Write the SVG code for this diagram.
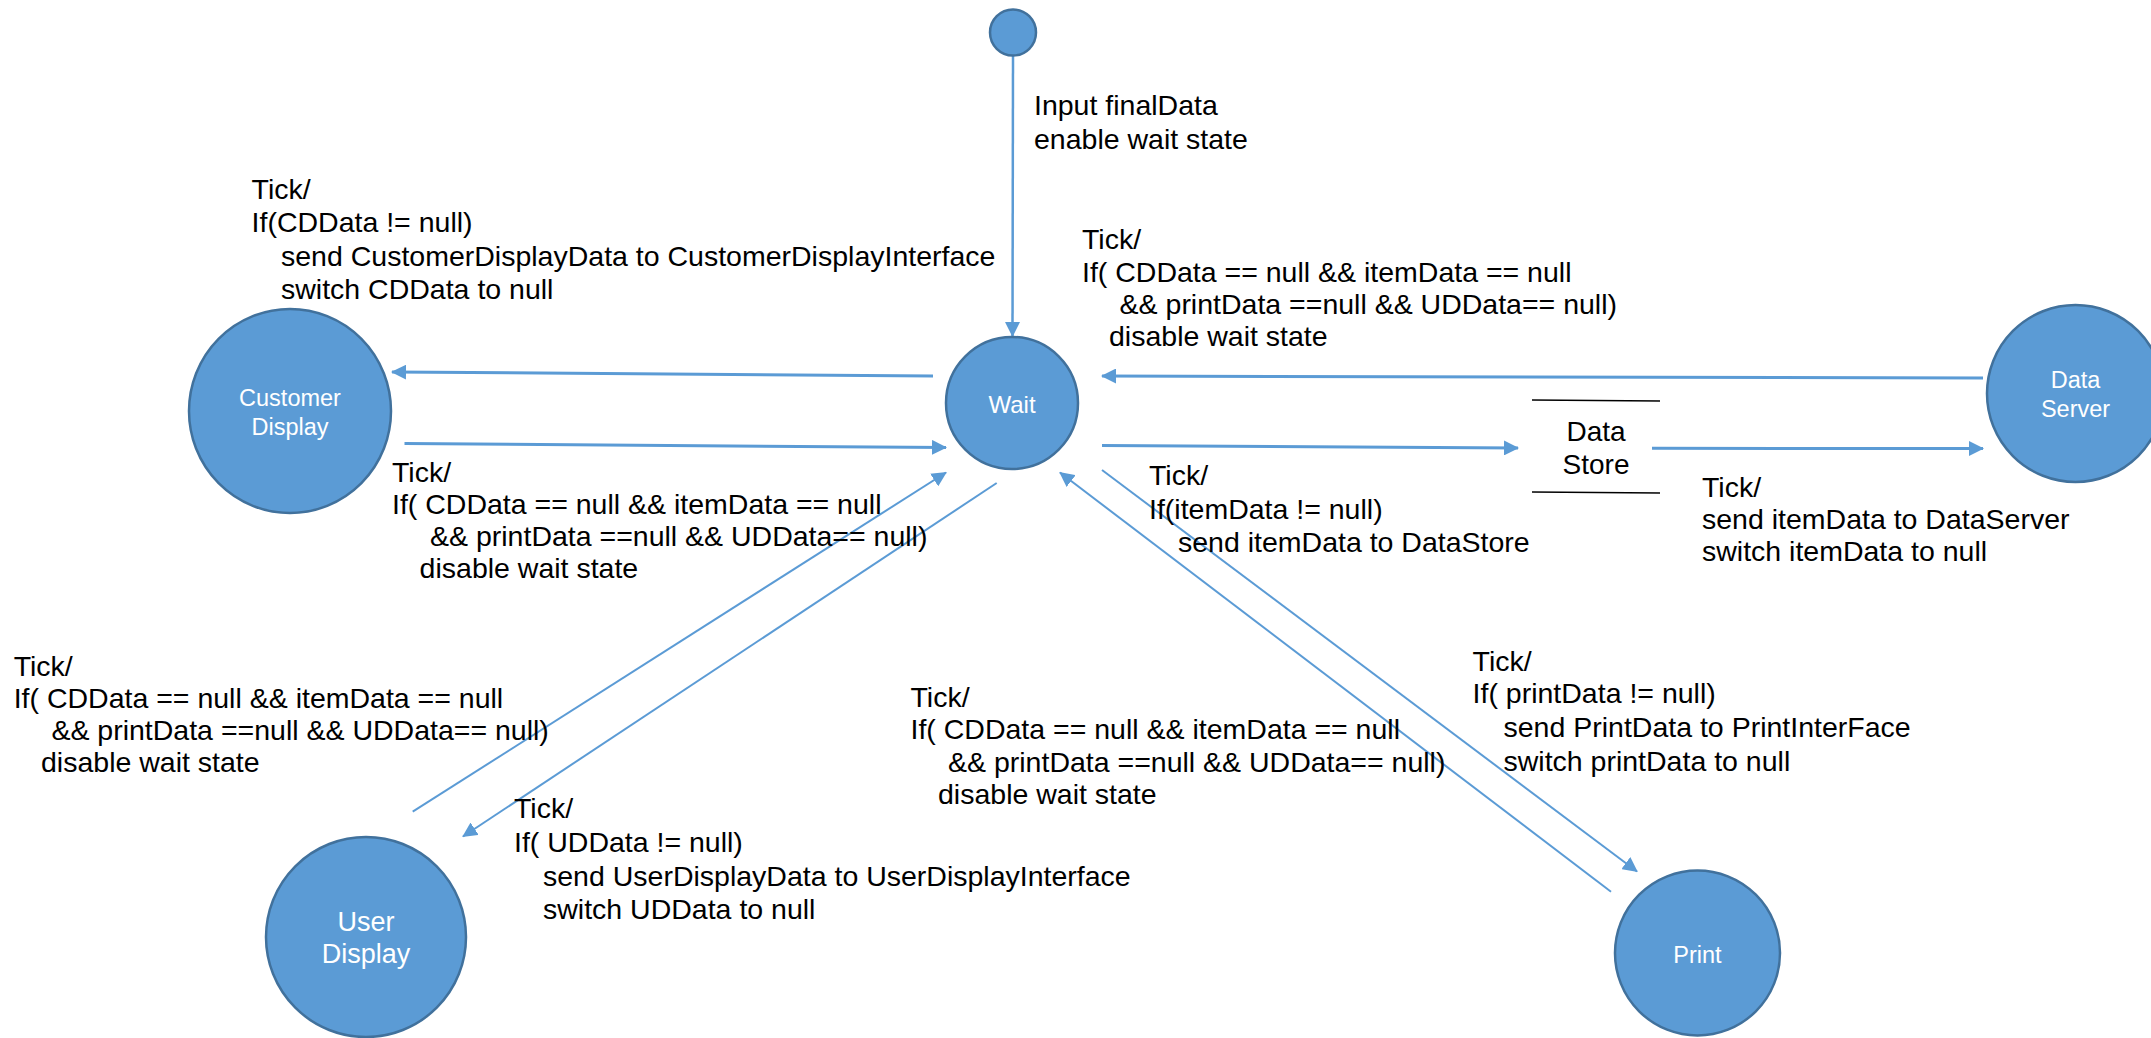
<svg xmlns="http://www.w3.org/2000/svg" width="2151" height="1038" viewBox="0 0 2151 1038">
<style>
.node{fill:#5B9BD5;stroke:#41719C;stroke-width:2.5}
.nl{font-family:"Liberation Sans",Arial,sans-serif;font-size:23.5px;fill:#FFFFFF;text-anchor:middle}
.lbl{font-family:"Liberation Sans",Arial,sans-serif;font-size:28.5px;fill:#000000}
.c{stroke:#5B9BD5;fill:none;stroke-width:3;marker-end:url(#ah)}
.d{stroke:#5B9BD5;fill:none;stroke-width:2;marker-end:url(#ah)}
.ds{stroke:#000000;stroke-width:1.5}
</style>
<defs>
<marker id="ah" viewBox="0 0 15 15" refX="14" refY="7.5" markerWidth="15" markerHeight="15" markerUnits="userSpaceOnUse" orient="auto">
<path d="M0,0 L15,7.5 L0,15 z" fill="#5B9BD5"/>
</marker>
</defs>
<rect width="2151" height="1038" fill="#FFFFFF"/>
<g id="connectors">
<line class="c" x1="1013" y1="56" x2="1012.5" y2="336" style="stroke-width:2.5"/>
<line class="c" x1="933" y1="376" x2="392" y2="372"/>
<line class="c" x1="404.5" y1="443.5" x2="946" y2="447.5"/>
<line class="c" x1="1983" y1="378" x2="1102" y2="376"/>
<line class="c" x1="1102" y1="445.5" x2="1518" y2="448"/>
<line class="c" x1="1652" y1="448.3" x2="1983" y2="448.5"/>
<line class="d" x1="412.7" y1="811.7" x2="946" y2="472.5"/>
<line class="d" x1="996.7" y1="483" x2="463" y2="836.5"/>
<line class="d" x1="1611" y1="891.7" x2="1060" y2="472.5"/>
<line class="d" x1="1102" y1="470" x2="1637" y2="871.5"/>
</g>
<g id="start">
<circle class="node" cx="1013" cy="32.5" r="23"/>
</g>
<g id="wait">
<circle class="node" cx="1012" cy="403" r="66"/>
<text class="nl" x="1012" y="413" style="font-size:24px">Wait</text>
</g>
<g id="customer-display">
<ellipse class="node" cx="290" cy="411" rx="101" ry="102"/>
<text class="nl" x="290" y="406">Customer</text>
<text class="nl" x="290" y="435">Display</text>
</g>
<g id="data-server">
<circle class="node" cx="2075.5" cy="393.5" r="88.5"/>
<text class="nl" x="2075.5" y="388">Data</text>
<text class="nl" x="2075.5" y="417">Server</text>
</g>
<g id="user-display">
<circle class="node" cx="366" cy="937" r="100"/>
<text class="nl" x="366" y="931" style="font-size:27px">User</text>
<text class="nl" x="366" y="963" style="font-size:27px">Display</text>
</g>
<g id="print">
<circle class="node" cx="1697.5" cy="953" r="82.5"/>
<text class="nl" x="1697.5" y="963">Print</text>
</g>
<g id="data-store">
<line class="ds" x1="1532" y1="400" x2="1660" y2="401"/>
<line class="ds" x1="1532" y1="492" x2="1660" y2="493"/>
<text class="lbl" x="1596" y="440.5" text-anchor="middle" style="font-size:28px">Data</text>
<text class="lbl" x="1596" y="474" text-anchor="middle" style="font-size:28px">Store</text>
</g>
<g id="labels">
<text class="lbl" x="1034" y="115">Input finalData</text>
<text class="lbl" x="1034" y="149">enable wait state</text>

<text class="lbl" x="251.6" y="199.3">Tick/</text>
<text class="lbl" x="251.6" y="232.3">If(CDData != null)</text>
<text class="lbl" x="281" y="265.7">send CustomerDisplayData to CustomerDisplayInterface</text>
<text class="lbl" x="281" y="299">switch CDData to null</text>

<text class="lbl" x="1082" y="249">Tick/</text>
<text class="lbl" x="1082" y="281.7">If( CDData == null &amp;&amp; itemData == null</text>
<text class="lbl" x="1119.6" y="313.5">&amp;&amp; printData ==null &amp;&amp; UDData== null)</text>
<text class="lbl" x="1109" y="346">disable wait state</text>

<text class="lbl" x="392" y="481.7">Tick/</text>
<text class="lbl" x="392" y="513.5">If( CDData == null &amp;&amp; itemData == null</text>
<text class="lbl" x="430" y="545.5">&amp;&amp; printData ==null &amp;&amp; UDData== null)</text>
<text class="lbl" x="419.6" y="577.5">disable wait state</text>

<text class="lbl" x="13.7" y="676">Tick/</text>
<text class="lbl" x="13.7" y="708">If( CDData == null &amp;&amp; itemData == null</text>
<text class="lbl" x="51.4" y="740">&amp;&amp; printData ==null &amp;&amp; UDData== null)</text>
<text class="lbl" x="41" y="772">disable wait state</text>

<text class="lbl" x="514" y="818">Tick/</text>
<text class="lbl" x="514" y="852">If( UDData != null)</text>
<text class="lbl" x="543" y="886">send UserDisplayData to UserDisplayInterface</text>
<text class="lbl" x="543" y="919">switch UDData to null</text>

<text class="lbl" x="910.5" y="706.7">Tick/</text>
<text class="lbl" x="910.5" y="739">If( CDData == null &amp;&amp; itemData == null</text>
<text class="lbl" x="948" y="771.7">&amp;&amp; printData ==null &amp;&amp; UDData== null)</text>
<text class="lbl" x="938" y="804">disable wait state</text>

<text class="lbl" x="1472.6" y="670.7">Tick/</text>
<text class="lbl" x="1472.6" y="703">If( printData != null)</text>
<text class="lbl" x="1503.5" y="737">send PrintData to PrintInterFace</text>
<text class="lbl" x="1503.5" y="770.7">switch printData to null</text>

<text class="lbl" x="1149" y="485">Tick/</text>
<text class="lbl" x="1149" y="518.5">If(itemData != null)</text>
<text class="lbl" x="1178" y="552">send itemData to DataStore</text>

<text class="lbl" x="1702" y="497">Tick/</text>
<text class="lbl" x="1702" y="529">send itemData to DataServer</text>
<text class="lbl" x="1702" y="561">switch itemData to null</text>
</g>
</svg>
